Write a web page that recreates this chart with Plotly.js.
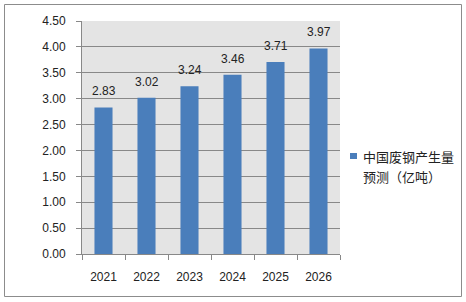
<!DOCTYPE html>
<html><head><meta charset="utf-8">
<script src="https://cdn.plot.ly/plotly-3.0.1.min.js"></script>
<style>html,body{margin:0;padding:0;background:#fff}</style>
</head><body>
<div id="chart" style="width:466px;height:302px"></div>
<script>
const years = ['2021','2022','2023','2024','2025','2026'];
const values = [2.83, 3.02, 3.24, 3.46, 3.71, 3.97];
const legendLines = ['中国废钢产生量', '预测（亿吨）'];
const yTicks = [0,0.5,1,1.5,2,2.5,3,3.5,4,4.5];

const barColor = '#4a7ebb';
const trace = {
  type: 'bar', x: years, y: values, name: legendLines.join(''),
  marker: {color: barColor}, showlegend: false
};
// plot area in pixels: x 82..340, y 21..254
const px = v => (v - 82) / 258;
const py = v => (254 - v) / 233;
const labelAnn = years.map((yr, i) => ({
  x: i, y: values[i], xref: 'x', yref: 'y', text: values[i].toFixed(2),
  showarrow: false, yanchor: 'middle', yshift: 16,
  font: {family: 'Liberation Sans, Arial, sans-serif', size: 12, color: '#222'}
}));
const legendAnn = legendLines.map((t, i) => ({
  x: px(361), y: py(156 + i * 20), xref: 'paper', yref: 'paper', text: t,
  showarrow: false, xanchor: 'left', yanchor: 'middle',
  font: {family: '"Noto Sans CJK SC", sans-serif', size: 13, color: '#222'}
}));
const layout = {
  width: 466, height: 302,
  margin: {l: 82, r: 126, t: 21, b: 48},
  paper_bgcolor: '#fff', plot_bgcolor: '#e4e4e4',
  bargap: 0.58,
  font: {family: 'Liberation Sans, Arial, sans-serif', size: 12, color: '#222'},
  xaxis: {type: 'category', range: [-0.5, years.length - 0.5], showgrid: false, showline: true, linecolor: '#888',
          ticks: 'outside', ticklen: 5, tickcolor: '#888', tickson: 'boundaries', ticklabelstandoff: 12},
  yaxis: {range: [0, 4.5], tickvals: yTicks, ticktext: yTicks.map(v => v.toFixed(2)),
          showgrid: true, gridcolor: '#888', gridwidth: 1, showline: true, linecolor: '#888',
          ticks: 'outside', ticklen: 5, tickcolor: '#888', zeroline: false, ticklabelstandoff: 8},
  showlegend: false,
  annotations: labelAnn.concat(legendAnn),
  shapes: [
    {type: 'rect', xref: 'paper', yref: 'paper',
     x0: px(4.5), x1: px(461.5), y0: py(296.5), y1: py(4.5),
     line: {color: '#8c8c8c', width: 1}, fillcolor: 'rgba(0,0,0,0)', layer: 'below'},
    {type: 'rect', xref: 'paper', yref: 'paper',
     x0: px(350), x1: px(357), y0: py(159), y1: py(153),
     line: {width: 0}, fillcolor: barColor}
  ]
};
Plotly.newPlot('chart', [trace], layout, {displayModeBar: false, staticPlot: true});
</script>
</body></html>
